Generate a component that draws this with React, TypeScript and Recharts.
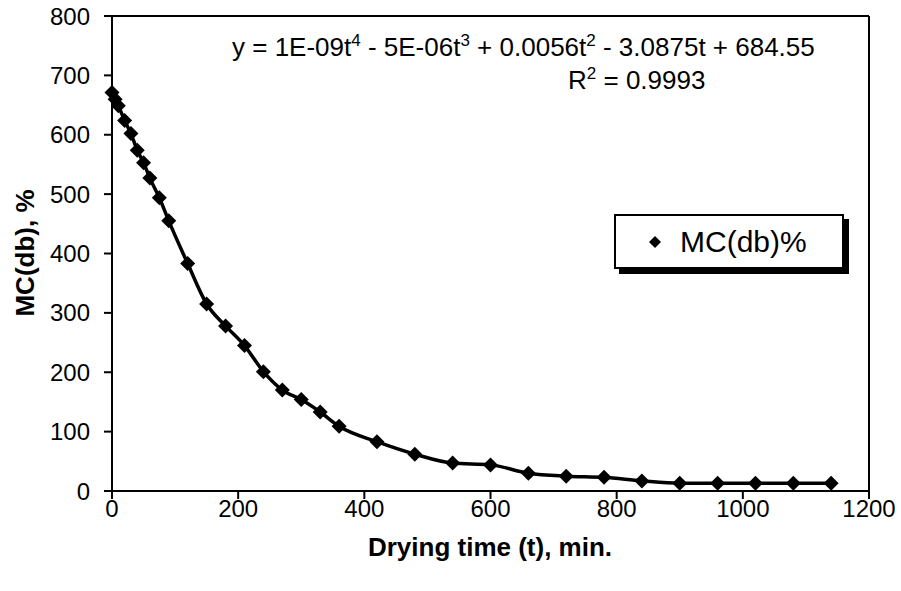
import React from "react";
import {
  ComposedChart,
  Line,
  XAxis,
  YAxis,
  Legend,
  ReferenceLine,
  Customized,
} from "recharts";

// drying time (min) and moisture content, dry basis (%)
const times = [
  0, 5, 10, 20, 30, 40, 50, 60, 75, 90, 120, 150, 180, 210, 240, 270, 300,
  330, 360, 420, 480, 540, 600, 660, 720, 780, 840, 900, 960, 1020, 1080, 1140,
];
const moisture = [
  671, 660, 649, 624, 602, 574, 553, 527, 494, 455, 383, 315, 278, 245, 201,
  170, 154, 133, 109, 83, 62, 47, 44, 30, 25, 23, 17, 13, 13, 13, 13, 13,
];
const xTicks = [0, 200, 400, 600, 800, 1000, 1200];
const yTicks = [0, 100, 200, 300, 400, 500, 600, 700, 800];

const data = times.map((t, i) => ({ t, mc: moisture[i] }));

const FONT = "'Liberation Sans', Arial, sans-serif";

const Diamond = (props: any) => {
  const { cx, cy } = props;
  if (cx == null || cy == null) return null;
  const r = 7.5;
  return (
    <polygon
      key={`d-${props.index}`}
      points={`${cx},${cy - r} ${cx + r},${cy} ${cx},${cy + r} ${cx - r},${cy}`}
      fill="#000"
    />
  );
};

const LegendBox = () => (
  <div
    style={{
      width: 226,
      height: 51,
      border: "2px solid #000",
      background: "#fff",
      boxShadow: "5px 5px 0 #000",
      display: "flex",
      alignItems: "center",
      fontFamily: FONT,
      fontSize: 30,
      color: "#000",
    }}
  >
    <svg width={26} height={20} style={{ marginLeft: 26, marginRight: 12 }}>
      <polygon points="13,4 19,10 13,16 7,10" fill="#000" />
    </svg>
    <span>MC(db)%</span>
  </div>
);

const Annotations = () => (
  <g fontFamily={FONT} fill="#000">
    <text x={232} y={56} fontSize={26}>
      y = 1E-09t<tspan dy={-10} fontSize={17}>4</tspan>
      <tspan dy={10}> - 5E-06t</tspan>
      <tspan dy={-10} fontSize={17}>3</tspan>
      <tspan dy={10}> + 0.0056t</tspan>
      <tspan dy={-10} fontSize={17}>2</tspan>
      <tspan dy={10}> - 3.0875t + 684.55</tspan>
    </text>
    <text x={568} y={89} fontSize={26}>
      R<tspan dy={-10} fontSize={17}>2</tspan>
      <tspan dy={10}> = 0.9993</tspan>
    </text>
    <text
      x={490}
      y={556}
      fontSize={26}
      fontWeight="bold"
      textAnchor="middle"
    >
      Drying time (t), min.
    </text>
    <text
      x={0}
      y={0}
      fontSize={26}
      fontWeight="bold"
      textAnchor="middle"
      transform="translate(34,253) rotate(-90)"
    >
      MC(db), %
    </text>
  </g>
);

export default function App() {
  return (
    <div
      style={{
        position: "absolute",
        left: 0,
        top: 0,
        width: 901,
        height: 591,
        background: "#fff",
      }}
    >
      <ComposedChart
        width={901}
        height={591}
        data={data}
        margin={{ top: 16, right: 32, bottom: 20, left: 0 }}
      >
        <XAxis
          type="number"
          dataKey="t"
          domain={[0, 1200]}
          ticks={xTicks}
          height={80}
          tickSize={8}
          tickMargin={1}
          stroke="#000"
          strokeWidth={2}
          tick={{ fill: "#000", fontSize: 24, fontFamily: FONT }}
        />
        <YAxis
          type="number"
          domain={[0, 800]}
          ticks={yTicks}
          width={112}
          tickSize={8}
          tickMargin={14}
          stroke="#000"
          strokeWidth={2}
          tick={{ fill: "#000", fontSize: 24, fontFamily: FONT }}
        />
        <ReferenceLine y={800} stroke="#000" strokeWidth={2} />
        <ReferenceLine x={1200} stroke="#000" strokeWidth={2} />
        <Line
          type="monotone"
          dataKey="mc"
          stroke="#000"
          strokeWidth={3.5}
          dot={<Diamond />}
          activeDot={false}
          isAnimationActive={false}
          legendType="diamond"
        />
        <Legend
          layout="vertical"
          align="center"
          verticalAlign="middle"
          content={<LegendBox />}
          wrapperStyle={{ left: 614, top: 214, width: 240, height: 60 }}
        />
        <Customized component={<Annotations />} />
      </ComposedChart>
    </div>
  );
}
